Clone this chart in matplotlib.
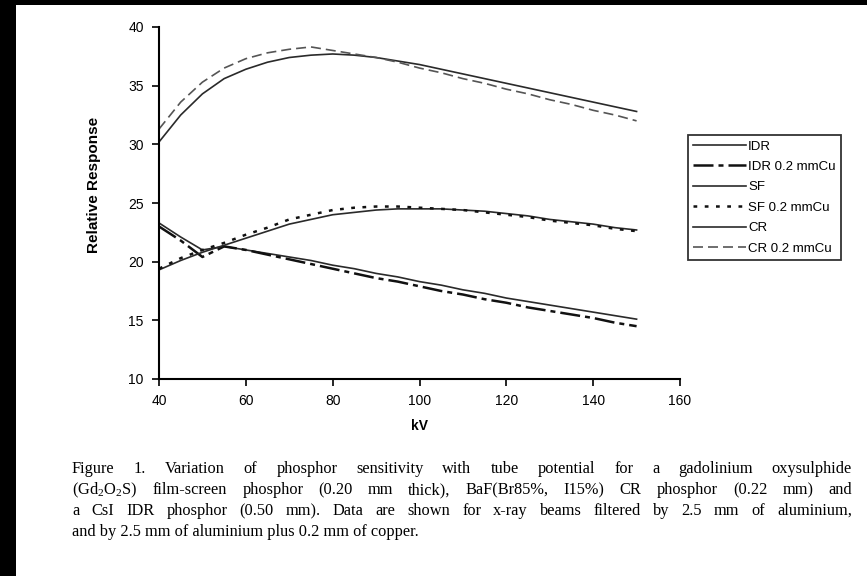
import matplotlib
matplotlib.use("Agg")
import matplotlib.pyplot as plt
from matplotlib.patches import Rectangle

kv = [40, 45, 50, 55, 60, 65, 70, 75, 80, 85, 90, 95, 100, 105, 110, 115, 120, 125, 130, 135, 140, 145, 150]

idr = [23.3, 22.1, 21.0, 21.3, 21.0, 20.7, 20.4, 20.1, 19.7, 19.4, 19.0, 18.7, 18.3, 18.0, 17.6, 17.3, 16.9, 16.6, 16.3, 16.0, 15.7, 15.4, 15.1]
idr_cu = [23.0, 21.8, 20.4, 21.3, 21.0, 20.6, 20.2, 19.8, 19.4, 19.0, 18.6, 18.3, 17.9, 17.5, 17.2, 16.8, 16.5, 16.1, 15.8, 15.5, 15.2, 14.8, 14.5]
sf = [19.3, 20.1, 20.8, 21.4, 22.0, 22.6, 23.2, 23.6, 24.0, 24.2, 24.4, 24.5, 24.5, 24.5, 24.4, 24.3, 24.1, 23.9, 23.6, 23.4, 23.2, 22.9, 22.7]
sf_cu = [19.4, 20.3, 21.0, 21.6, 22.3, 22.9, 23.6, 24.0, 24.4, 24.6, 24.7, 24.7, 24.6, 24.5, 24.4, 24.2, 24.0, 23.8, 23.5, 23.3, 23.1, 22.8, 22.6]
cr = [30.2, 32.5, 34.3, 35.6, 36.4, 37.0, 37.4, 37.6, 37.7, 37.6, 37.4, 37.1, 36.8, 36.4, 36.0, 35.6, 35.2, 34.8, 34.4, 34.0, 33.6, 33.2, 32.8]
cr_cu = [31.3, 33.6, 35.3, 36.5, 37.3, 37.8, 38.1, 38.3, 38.0, 37.7, 37.4, 37.0, 36.5, 36.1, 35.6, 35.2, 34.7, 34.3, 33.8, 33.4, 32.9, 32.5, 32.0]

labels = ["IDR", "IDR 0.2 mmCu", "SF", "SF 0.2 mmCu", "CR", "CR 0.2 mmCu"]
xticks = [40, 60, 80, 100, 120, 140, 160]
yticks = [10, 15, 20, 25, 30, 35, 40]

caption = [
    "Figure 1.  Variation of phosphor sensitivity with tube potential for a gadolinium oxysulphide",
    "(Gd$_2$O$_2$S) film-screen phosphor (0.20 mm thick), BaF(Br85%, I15%) CR phosphor (0.22 mm) and",
    "a CsI IDR phosphor (0.50 mm). Data are shown for x-ray beams filtered by 2.5 mm of aluminium,",
    "and by 2.5 mm of aluminium plus 0.2 mm of copper.",
]

plt.rcParams['font.family'] = ['Liberation Sans', 'DejaVu Sans']
plt.rcParams['mathtext.fontset'] = 'custom'
plt.rcParams['mathtext.rm'] = 'Liberation Serif'
plt.rcParams['mathtext.it'] = 'Liberation Serif:italic'

W, H = 867, 576
fig = plt.figure(figsize=(W / 100, H / 100), dpi=100)
fig.patch.set_facecolor('white')

# black scan border
fig.patches.append(Rectangle((0, 1 - 5 / H), 1, 5 / H, transform=fig.transFigure,
                             facecolor='black', edgecolor='none', zorder=10))
fig.patches.append(Rectangle((0, 0), 16 / W, 1, transform=fig.transFigure,
                             facecolor='black', edgecolor='none', zorder=10))

x0, x1, yt, yb = 159, 680, 27, 379
ax = fig.add_axes([x0 / W, 1 - yb / H, (x1 - x0) / W, (yb - yt) / H])

c = '#2a2a2a'
ax.plot(kv, idr, color=c, lw=1.2, label=labels[0])
ax.plot(kv, idr_cu, color='#111111', lw=1.8, ls=(0, (8, 2, 2, 2)), label=labels[1])
ax.plot(kv, sf, color=c, lw=1.2, label=labels[2])
ax.plot(kv, sf_cu, color='#111111', lw=1.8, ls=(0, (1.5, 3)), label=labels[3])
ax.plot(kv, cr, color=c, lw=1.2, label=labels[4])
ax.plot(kv, cr_cu, color='#555555', lw=1.2, ls=(0, (6, 3)), label=labels[5])

ax.set_xlim(40, 160)
ax.set_ylim(10, 40)
ax.set_xticks(xticks)
ax.set_yticks(yticks)
for s in ['top', 'right']:
    ax.spines[s].set_visible(False)
for s in ['left', 'bottom']:
    ax.spines[s].set_linewidth(1.5)
ax.tick_params(direction='out', length=5, width=1.2, labelsize=10, pad=6)

ax.set_xlabel('kV', fontsize=10, fontweight='bold', labelpad=8)
ax.set_ylabel('Relative Response', fontsize=11, fontweight='bold')
ax.yaxis.set_label_coords((101 - x0) / (x1 - x0), (yb - 185) / (yb - yt))

leg = ax.legend(loc='upper left', bbox_to_anchor=(688 / W, 1 - 135 / H),
                bbox_transform=fig.transFigure, fontsize=9.5, frameon=True,
                fancybox=False, edgecolor='black', handlelength=4.0,
                handletextpad=0.15, labelspacing=0.62, borderpad=0.4,
                borderaxespad=0)
leg.get_frame().set_linewidth(1.3)

# caption, justified
fig.canvas.draw()
renderer = fig.canvas.get_renderer()
left_px, right_px = 72, 852
cap_fs = 11.8

ys = [473, 494, 515, 536]
for i, line in enumerate(caption):
    ypos = 1 - ys[i] / H
    if i == len(caption) - 1:
        fig.text(left_px / W, ypos, line, family='Liberation Serif', fontsize=cap_fs,
                 va='baseline', ha='left')
        continue
    words = [w for w in line.split(' ') if w != '']
    arts = []
    widths = []
    for w in words:
        t = fig.text(0, ypos, w, family='Liberation Serif', fontsize=cap_fs,
                     va='baseline', ha='left')
        bb = t.get_window_extent(renderer)
        arts.append(t)
        widths.append(bb.width)
    gap = (right_px - left_px - sum(widths)) / (len(words) - 1)
    x = left_px
    for t, wd in zip(arts, widths):
        t.set_x(x / W)
        x += wd + gap

fig.savefig('out.png', dpi=100, facecolor='white')
